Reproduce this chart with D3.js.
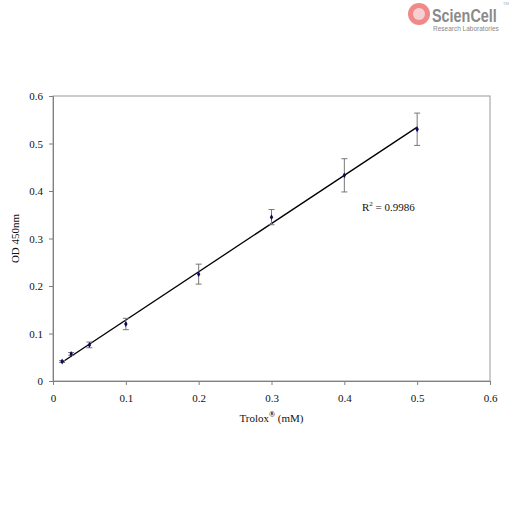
<!DOCTYPE html>
<html>
<head>
<meta charset="utf-8">
<script src="https://cdnjs.cloudflare.com/ajax/libs/d3/7.8.5/d3.min.js"></script>
<style>
  body { margin: 0; background: #fff; }
  text { font-family: "Liberation Serif", "Times New Roman", serif; }
</style>
</head>
<body>
<div id="chart"></div>
<script>
// data
var conc = [0.0125, 0.025, 0.05, 0.1, 0.2, 0.3, 0.4, 0.5];
var od = [0.041, 0.057, 0.076, 0.12, 0.225, 0.345, 0.433, 0.53];
var err = [0.002, 0.003, 0.006, 0.012, 0.021, 0.016, 0.035, 0.034];
var xTicks = [0, 0.1, 0.2, 0.3, 0.4, 0.5, 0.6];
var yTicks = [0, 0.1, 0.2, 0.3, 0.4, 0.5, 0.6];
var r2Label = "0.9986";

var w = 512, h = 512;
var margin = {left: 53, right: 22, top: 96, bottom: 131};

var svg = d3.select("#chart").append("svg")
            .attr("width", w)
            .attr("height", h);

var x = d3.scaleLinear().domain([0, 0.6]).range([margin.left, w - margin.right]);
var y = d3.scaleLinear().domain([0, 0.6]).range([h - margin.bottom, margin.top]);

//plot frame
svg.append("rect")
   .attr("x", x(0)).attr("y", y(0.6))
   .attr("width", x(0.6) - x(0)).attr("height", y(0) - y(0.6))
   .attr("fill", "none").attr("stroke", "#9a9a9a").attr("stroke-width", 1);

var fmt = function(d){ return d === 0 ? "0" : d3.format(".1f")(d); };
var xAxis = svg.append("g")
               .attr("transform", "translate(0," + y(0) + ")")
               .call(d3.axisBottom(x).tickValues(xTicks).tickSize(4).tickPadding(9).tickFormat(fmt));
var yAxis = svg.append("g")
               .attr("transform", "translate(" + x(0) + ",0)")
               .call(d3.axisLeft(y).tickValues(yTicks).tickSize(4).tickPadding(6).tickFormat(fmt));

[xAxis, yAxis].forEach(function(a){
  a.select(".domain").attr("stroke", "#808080");
  a.selectAll(".tick line").attr("stroke", "#808080");
  a.selectAll(".tick text").attr("fill", "#111").style("font-size", "11px")
   .style("font-family", "'Liberation Serif', serif");
});

//axis titles
var xt = svg.append("text")
            .attr("x", (x(0) + x(0.6)) / 2)
            .attr("y", 422)
            .attr("text-anchor", "middle")
            .style("font-size", "11px")
            .attr("fill", "#111");
xt.append("tspan").text("Trolox");
xt.append("tspan").attr("dy", -5).style("font-size", "8px").style("font-weight", "bold").text("®");
xt.append("tspan").attr("dy", 5).text(" (mM)");

svg.append("text")
   .attr("transform", "translate(19," + ((y(0) + y(0.6)) / 2) + ") rotate(-90)")
   .attr("text-anchor", "middle")
   .style("font-size", "11px")
   .attr("fill", "#111")
   .text("OD 450nm");

//least squares trend line
var mx = d3.mean(conc), my = d3.mean(od);
var slope = d3.sum(conc, function(c, i){ return (c - mx) * (od[i] - my); }) /
            d3.sum(conc, function(c){ return (c - mx) * (c - mx); });
var icpt = my - slope * mx;
var x0 = d3.min(conc), x1 = d3.max(conc);
svg.append("line")
   .attr("x1", x(x0)).attr("y1", y(icpt + slope * x0))
   .attr("x2", x(x1)).attr("y2", y(icpt + slope * x1))
   .attr("stroke", "#000").attr("stroke-width", 1.3);

//error bars
var eb = svg.append("g").selectAll("g")
            .data(conc)
            .enter().append("g")
            .attr("stroke", "#777").attr("stroke-width", 1);
eb.append("line")
  .attr("x1", function(d){ return x(d); }).attr("x2", function(d){ return x(d); })
  .attr("y1", function(d, i){ return y(od[i] - err[i]); })
  .attr("y2", function(d, i){ return y(od[i] + err[i]); });
eb.append("line")
  .attr("x1", function(d){ return x(d) - 3; }).attr("x2", function(d){ return x(d) + 3; })
  .attr("y1", function(d, i){ return y(od[i] + err[i]); })
  .attr("y2", function(d, i){ return y(od[i] + err[i]); });
eb.append("line")
  .attr("x1", function(d){ return x(d) - 3; }).attr("x2", function(d){ return x(d) + 3; })
  .attr("y1", function(d, i){ return y(od[i] - err[i]); })
  .attr("y2", function(d, i){ return y(od[i] - err[i]); });

//diamond markers
svg.append("g").selectAll("path")
   .data(conc)
   .enter().append("path")
   .attr("d", d3.symbol().type(d3.symbolDiamond).size(10))
   .attr("transform", function(d, i){ return "translate(" + x(d) + "," + y(od[i]) + ")"; })
   .attr("fill", "#0a0a60");

//R squared label
var r2 = svg.append("text")
            .attr("x", 362).attr("y", 211)
            .style("font-size", "11px")
            .attr("fill", "#111");
r2.append("tspan").text("R");
r2.append("tspan").attr("dy", -5).style("font-size", "7px").text("2");
r2.append("tspan").attr("dy", 5).text(" = " + r2Label);

//logo
var logo = svg.append("g");
logo.append("circle").attr("cx", 419).attr("cy", 14).attr("r", 11).attr("fill", "#f08a8a");
logo.append("circle").attr("cx", 419).attr("cy", 14).attr("r", 6).attr("fill", "#f6d0d0");
logo.append("g")
    .attr("transform", "translate(432,22) scale(0.8,1)")
    .append("text")
    .style("font-family", "'Liberation Sans', sans-serif")
    .style("font-weight", "bold").style("font-size", "18px")
    .attr("fill", "#8a8a8a")
    .text("ScienCell");
logo.append("text")
    .attr("x", 433).attr("y", 31)
    .style("font-family", "'Liberation Sans', sans-serif")
    .style("font-size", "6.5px")
    .attr("fill", "#888")
    .text("Research Laboratories");
logo.append("text")
    .attr("x", 503).attr("y", 5)
    .style("font-family", "'Liberation Sans', sans-serif")
    .style("font-size", "4px").attr("fill", "#aaa")
    .text("TM");
</script>
</body>
</html>
